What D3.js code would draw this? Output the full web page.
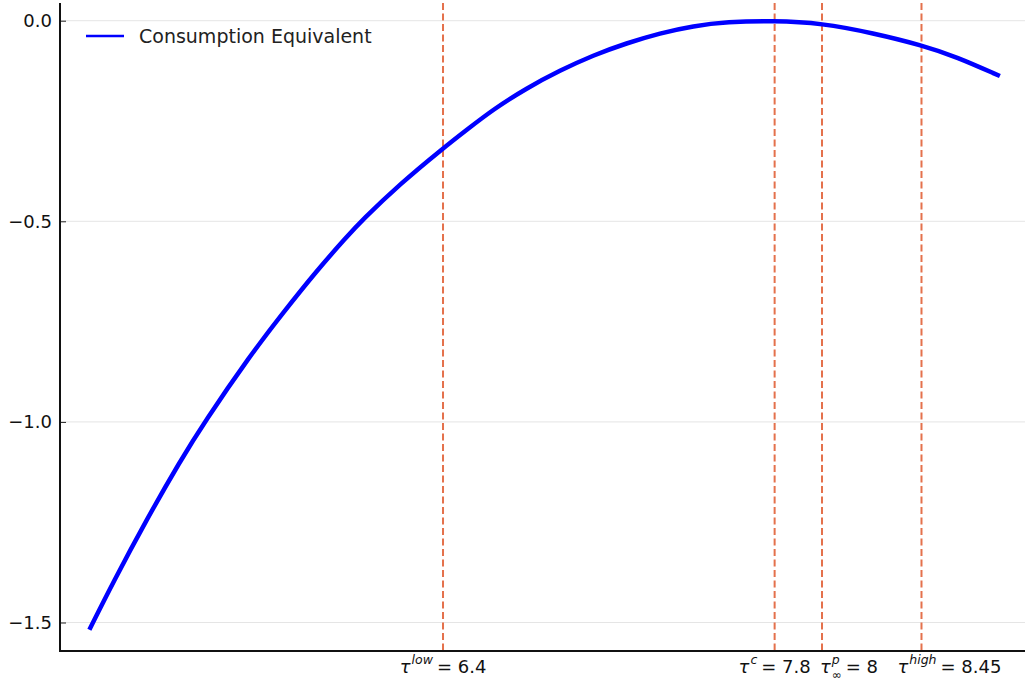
<!DOCTYPE html>
<html>
<head>
<meta charset="utf-8">
<script src="https://cdn.jsdelivr.net/npm/d3@7"></script>
<style>
  body { margin: 0; background: #fff; }
  svg { display: block; font-family: "DejaVu Sans", sans-serif; }
</style>
</head>
<body>
<svg id="chart" width="1025" height="684"></svg>
<script>
// tax rate grid and consumption-equivalent welfare
const tauGrid = [4.907, 5.008, 5.149, 5.29, 5.391, 5.585, 5.726, 5.867, 5.993, 6.057, 6.218, 6.4, 6.5,
    6.612, 6.753, 6.894, 7.034, 7.175, 7.316, 7.457, 7.598, 7.794, 7.999, 8.217, 8.421, 8.568, 8.751];
const consEquiv = [-1.518, -1.399, -1.243, -1.098, -1.002, -0.835, -0.727, -0.623, -0.539, -0.498, -0.407, -0.318, -0.272,
    -0.221, -0.168, -0.124, -0.086, -0.056, -0.031, -0.013, -0.003, 0.0, -0.006, -0.031, -0.061, -0.090, -0.138];

// marked tax rates (dashed lines) and where their labels sit
const markerValues = [6.4, 7.8, 8.0, 8.42];
const markerLabelAt = [6.4, 7.8, 8.114, 8.538];
const markerSup = ["low", "c", "p", "high"];
const markerSub = ["", "", "∞", ""];
const markerText = ["6.4", "7.8", "8", "8.45"];

const yTicks = [0, -0.5, -1.0, -1.5];
const seriesName = "Consumption Equivalent";

const svg = d3.select("#chart");
const plot = { left: 60, right: 1025, top: 3, bottom: 651 };

const x = d3.scaleLinear().domain([4.783, 8.857]).range([plot.left, plot.right]);
const y = d3.scaleLinear().domain([-1.571, 0.0441]).range([plot.bottom, plot.top]);

// horizontal grid
svg.append("g")
    .selectAll("line")
    .data(yTicks)
    .join("line")
    .attr("x1", plot.left).attr("x2", plot.right)
    .attr("y1", d => y(d)).attr("y2", d => y(d))
    .attr("stroke", "#e5e5e5")
    .attr("stroke-width", 1);

// y axis with inward ticks
const yAxis = svg.append("g")
    .attr("transform", `translate(${plot.left},0)`)
    .call(d3.axisRight(y).tickValues(yTicks).tickSize(6).tickFormat(""));
yAxis.select(".domain").remove();
yAxis.selectAll(".tick line").attr("stroke", "#222").attr("stroke-width", 1);

svg.append("g")
    .selectAll("text")
    .data(yTicks)
    .join("text")
    .attr("x", plot.left - 8)
    .attr("y", d => y(d))
    .attr("dy", "0.36em")
    .attr("text-anchor", "end")
    .attr("font-size", 18)
    .attr("fill", "#111")
    .text(d => d3.format(".1f")(d).replace("-", "\u2212"));

// dashed marker lines
svg.append("g")
    .selectAll("line")
    .data(markerValues)
    .join("line")
    .attr("x1", d => x(d)).attr("x2", d => x(d))
    .attr("y1", plot.top).attr("y2", plot.bottom)
    .attr("stroke", "#e4714c")
    .attr("stroke-width", 2)
    .attr("stroke-dasharray", "7,3.5");

// curve
const line = d3.line()
    .x((d, i) => x(tauGrid[i]))
    .y(d => y(d))
    .curve(d3.curveBasis);

svg.append("path")
    .datum(consEquiv)
    .attr("d", line)
    .attr("fill", "none")
    .attr("stroke", "#0000ff")
    .attr("stroke-width", 4.5)
    .attr("stroke-linecap", "butt");

// spines
svg.append("line")
    .attr("x1", plot.left).attr("x2", plot.left).attr("y1", plot.top).attr("y2", plot.bottom + 1)
    .attr("stroke", "#111").attr("stroke-width", 2);
svg.append("line")
    .attr("x1", plot.left - 1).attr("x2", plot.right).attr("y1", plot.bottom).attr("y2", plot.bottom)
    .attr("stroke", "#111").attr("stroke-width", 2);

// x labels built from pieces: tau, superscript/subscript, "= value"
const baseY = 673;
markerValues.forEach((v, i) => {
    const g = svg.append("g");
    let cx = 0;
    const tau = g.append("text").attr("x", cx).attr("y", baseY)
        .attr("font-size", 18).attr("font-style", "italic").attr("fill", "#111").text("τ");
    cx += tau.node().getComputedTextLength() + 1;
    const sup = g.append("text").attr("x", cx).attr("y", baseY - 9)
        .attr("font-size", 12.5).attr("font-style", "italic").attr("fill", "#111").text(markerSup[i]);
    let w = sup.node().getComputedTextLength();
    if (markerSub[i]) {
        const sub = g.append("text").attr("x", cx).attr("y", baseY + 6)
            .attr("font-size", 12).attr("fill", "#111").text(markerSub[i]);
        w = Math.max(w, sub.node().getComputedTextLength());
    }
    cx += w + 4;
    const val = g.append("text").attr("x", cx).attr("y", baseY)
        .attr("font-size", 18).attr("fill", "#111").text("= " + markerText[i]);
    cx += val.node().getComputedTextLength();
    g.attr("transform", `translate(${x(markerLabelAt[i]) - cx / 2},0)`);
});

// legend
const legend = svg.append("g").attr("transform", "translate(86,36)");
legend.append("line")
    .attr("x1", 0).attr("x2", 38).attr("y1", 0).attr("y2", 0)
    .attr("stroke", "#0000ff").attr("stroke-width", 2.5);
legend.append("text")
    .attr("x", 53).attr("y", 0).attr("dy", "0.36em")
    .attr("font-size", 19).attr("fill", "#222")
    .text(seriesName);
</script>
</body>
</html>
